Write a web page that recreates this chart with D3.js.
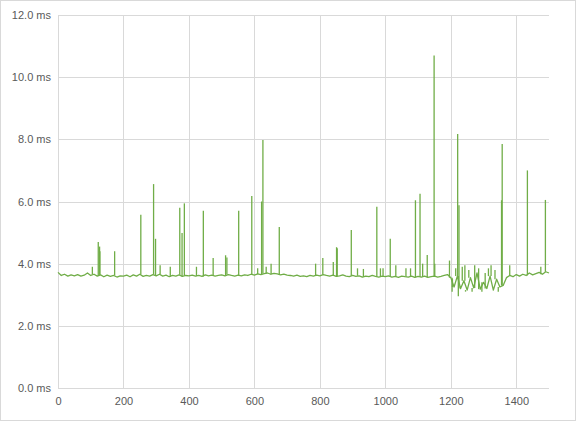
<!DOCTYPE html>
<html>
<head>
<meta charset="utf-8">
<script src="https://cdn.jsdelivr.net/npm/d3@7"></script>
<style>
	body { margin: 0; background: #fff; }
	svg text { font-family: "Liberation Sans", Arial, sans-serif; font-size: 11px; fill: #595959; }
</style>
</head>
<body>
<svg id="chart" width="581" height="425"></svg>
<script>
'use strict';

// base samples, every 10 runs starting at 0
var baseStep = 10;
var baseValues = [
	3.72, 3.62, 3.66, 3.60, 3.64, 3.61, 3.65, 3.60, 3.63, 3.70, 3.62,
	3.66, 3.60, 3.64, 3.58, 3.63, 3.59, 3.62, 3.57, 3.61, 3.60,
	3.63, 3.58, 3.64, 3.60, 3.66, 3.59, 3.62, 3.60, 3.65, 3.61,
	3.66, 3.60, 3.63, 3.58, 3.62, 3.60, 3.64, 3.59, 3.62, 3.61,
	3.63, 3.60, 3.62, 3.59, 3.64, 3.61, 3.63, 3.60, 3.62, 3.64,
	3.61, 3.65, 3.62, 3.60, 3.63, 3.61, 3.64, 3.62, 3.66, 3.63,
	3.67, 3.65, 3.68, 3.70, 3.66, 3.69, 3.67, 3.64, 3.66, 3.63,
	3.62, 3.60, 3.63, 3.59, 3.61, 3.58, 3.62, 3.60, 3.63, 3.61,
	3.65, 3.62, 3.60, 3.63, 3.59, 3.61, 3.64, 3.60, 3.58, 3.62,
	3.59, 3.61, 3.57, 3.60, 3.58, 3.62, 3.59, 3.57, 3.60, 3.58,
	3.61, 3.57, 3.59, 3.56, 3.60, 3.58, 3.57, 3.60, 3.56, 3.59,
	3.57, 3.60, 3.56, 3.58, 3.60, 3.57, 3.59, 3.62, 3.65, 3.55,
	3.25, 3.60, 3.20, 3.45, 3.15, 3.55, 3.22, 3.70, 3.18, 3.40,
	3.20, 3.60, 3.15, 3.50, 3.25, 3.30, 3.55, 3.62, 3.58, 3.65,
	3.60, 3.66, 3.62, 3.70, 3.64, 3.68, 3.72, 3.66, 3.74, 3.70
];

// single runs that stand out from the base: [run, ms]
var spikes = [
	[105, 3.9], [123, 4.7], [127, 4.55], [128, 4.4], [173, 4.4], [253, 5.57],
	[292, 6.56], [298, 4.8], [312, 3.95], [343, 3.9], [372, 5.8], [379, 4.99],
	[386, 5.94], [423, 3.9], [444, 5.7], [474, 4.18], [512, 4.27], [516, 4.2],
	[552, 5.7], [592, 6.18], [610, 3.85], [622, 6.0], [626, 7.98], [636, 3.9],
	[651, 4.0], [676, 5.18], [787, 4.0], [809, 4.18], [841, 4.05], [851, 4.53],
	[853, 4.5], [896, 5.08], [915, 3.85], [933, 3.83], [974, 5.83], [985, 3.85],
	[993, 3.85], [1015, 4.8], [1032, 3.95], [1063, 3.85], [1077, 3.85], [1092, 6.04],
	[1106, 6.25], [1114, 4.0], [1128, 4.28], [1149, 10.7], [1151, 4.0], [1196, 4.1],
	[1204, 3.1], [1205, 3.5], [1215, 3.85], [1221, 8.17], [1223, 2.95], [1225, 5.88],
	[1235, 3.9], [1243, 3.95], [1245, 3.1], [1255, 3.8], [1265, 3.1], [1273, 3.95],
	[1285, 3.85], [1295, 3.1], [1305, 3.7], [1315, 3.85], [1323, 3.95], [1335, 3.8],
	[1345, 3.1], [1355, 6.04], [1357, 7.85], [1380, 3.95], [1434, 7.0], [1475, 3.9],
	[1489, 6.05]
];

var xTicks = [0, 200, 400, 600, 800, 1000, 1200, 1400];
var yTicks = [0, 2, 4, 6, 8, 10, 12];

var margin = { left: 58, right: 32, top: 15, bottom: 37 };
var width = 581, height = 425;

var svg = d3.select("#chart");

svg.append("rect")
	.attr("x", 0.5).attr("y", 0.5)
	.attr("width", 575).attr("height", 420)
	.style("fill", "#fff")
	.style("stroke", "#d9d9d9");

var x = d3.scaleLinear()
	.domain([0, 1500])
	.range([margin.left, width - margin.right]);

var y = d3.scaleLinear()
	.domain([0, 12])
	.range([height - margin.bottom, margin.top]);

// gridlines
svg.append("g").selectAll("line")
	.data(yTicks)
	.enter().append("line")
	.attr("x1", x(0)).attr("x2", x(1500))
	.attr("y1", function (d) { return Math.round(y(d)) + 0.5; })
	.attr("y2", function (d) { return Math.round(y(d)) + 0.5; })
	.style("stroke", "#d9d9d9");

svg.append("g").selectAll("line")
	.data(xTicks)
	.enter().append("line")
	.attr("y1", y(0)).attr("y2", y(12))
	.attr("x1", function (d) { return Math.round(x(d)) + 0.5; })
	.attr("x2", function (d) { return Math.round(x(d)) + 0.5; })
	.style("stroke", "#d9d9d9");

// axes
var yAxis = svg.append("g")
	.attr("transform", "translate(" + (margin.left - 4) + ",0)")
	.call(d3.axisLeft(y).tickValues(yTicks).tickSize(0)
		.tickFormat(function (d) { return d3.format(".1f")(d) + " ms"; }));
yAxis.select(".domain").remove();

var xAxis = svg.append("g")
	.attr("transform", "translate(0," + (height - margin.bottom + 6) + ")")
	.call(d3.axisBottom(x).tickValues(xTicks).tickSize(0).tickFormat(d3.format("d")));
xAxis.select(".domain").remove();

var line = d3.line()
	.x(function (d) { return x(d[0]); })
	.y(function (d) { return y(d[1]); });

var basePoints = baseValues.map(function (v, i) { return [i * baseStep, v]; });

var green = "#70ad47";

svg.append("path")
	.datum(basePoints)
	.attr("d", line)
	.style("fill", "none")
	.style("stroke", green)
	.style("stroke-width", 1.3)
	.style("stroke-linejoin", "round");

// each spike rises straight up from the nearest base sample
svg.append("g").selectAll("path")
	.data(spikes)
	.enter().append("path")
	.attr("d", function (d) {
		var b = baseValues[Math.round(d[0] / baseStep)];
		return line([[d[0], b], [d[0], d[1]]]);
	})
	.style("fill", "none")
	.style("stroke", green)
	.style("stroke-width", 1.3);
</script>
</body>
</html>
